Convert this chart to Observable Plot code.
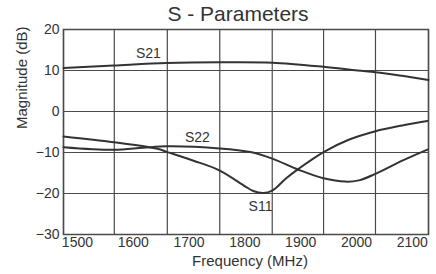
<!DOCTYPE html>
<html>
<head>
<meta charset="utf-8">
<script src="https://cdn.jsdelivr.net/npm/d3@7"></script>
<script src="https://cdn.jsdelivr.net/npm/@observablehq/plot@0.6"></script>
<style>
  html, body { margin: 0; padding: 0; background: #fff; }
  #chart svg { display: block; font-family: "Liberation Sans", Arial, sans-serif; }
</style>
</head>
<body>
<div id="chart"></div>
<script>
// Frequency (MHz) sample points and magnitudes (dB)
const s21Freq = [1475, 1565, 1660, 1755, 1849, 1941, 2002, 2034, 2082, 2129];
const s21Mag  = [10.6, 11.2, 11.8, 12.0, 11.9, 10.9, 10.0, 9.6, 8.7, 7.7];

const s11Freq = [1475, 1565, 1643, 1661, 1708, 1755, 1801, 1815, 1833, 1849, 1873, 1896, 1941, 1986, 2034, 2082, 2127];
const s11Mag  = [-6.1, -7.5, -9.1, -9.9, -12.0, -14.4, -18.3, -19.4, -19.9, -19.3, -16.4, -14.0, -9.9, -6.9, -4.8, -3.4, -2.3];

const s22Freq = [1475, 1565, 1618, 1661, 1755, 1810, 1849, 1896, 1941, 1980, 2004, 2034, 2082, 2127];
const s22Mag  = [-8.7, -9.35, -8.85, -8.5, -9.0, -9.9, -11.5, -14.2, -16.3, -17.1, -16.8, -15.2, -12.0, -9.3];

// Axis ticks
const xTickLabels = [1500, 1600, 1700, 1800, 1900, 2000, 2100];
const yTicks = [20, 10, 0, -10, -20, -30];
// Vertical grid positions (MHz) as drawn in the reference
const xGrid = [1475, 1566, 1661, 1755, 1849, 1941, 2034, 2129];
const yGrid = [10, 0, -10, -20];

// Curve annotations
const annNames = ["S21", "S22", "S11"];
const annFreq  = [1627, 1715, 1828];
const annMag   = [14.1, -6.3, -23.2];

const toRows = (name, fs, ms) => fs.map((f, i) => ({series: name, f, v: ms[i]}));
const s21 = toRows("S21", s21Freq, s21Mag);
const s11 = toRows("S11", s11Freq, s11Mag);
const s22 = toRows("S22", s22Freq, s22Mag);
const ann = annNames.map((n, i) => ({n, f: annFreq[i], v: annMag[i]}));

const ink = "#333";
const grid = "#4a4a4a";

const chart = Plot.plot({
  width: 436,
  height: 274,
  marginLeft: 63,
  marginRight: 8,
  marginTop: 29,
  marginBottom: 40,
  style: {fontFamily: "'Liberation Sans', Arial, sans-serif", color: ink, background: "#fff"},
  x: {domain: [1475, 2129]},
  y: {domain: [-30, 20]},
  marks: [
    Plot.gridX(xGrid, {stroke: grid, strokeOpacity: 1, strokeWidth: 1.2}),
    Plot.gridY(yGrid, {stroke: grid, strokeOpacity: 1, strokeWidth: 1.2}),
    Plot.frame({stroke: grid, strokeWidth: 1.5}),
    Plot.axisX(xTickLabels, {tickSize: 0, tickPadding: 3, fontSize: 14, fill: ink, label: null, tickFormat: d => String(d)}),
    Plot.axisY(yTicks, {tickSize: 0, tickPadding: 4, fontSize: 14, fill: ink, label: null}),
    Plot.line(s21, {x: "f", y: "v", stroke: ink, strokeWidth: 2, curve: "catmull-rom"}),
    Plot.line(s11, {x: "f", y: "v", stroke: ink, strokeWidth: 2, curve: "catmull-rom"}),
    Plot.line(s22, {x: "f", y: "v", stroke: ink, strokeWidth: 2, curve: "catmull-rom"}),
    Plot.text(ann, {x: "f", y: "v", text: "n", fontSize: 14, fill: ink}),
    Plot.text(["S - Parameters"], {frameAnchor: "top", dy: -15, dx: -8, fontSize: 21, fill: ink, lineAnchor: "middle"}),
    Plot.text(["Frequency (MHz)"], {frameAnchor: "bottom", dy: 27, dx: 4, fontSize: 15, fill: ink, lineAnchor: "middle"}),
    Plot.text(["Magnitude (dB)"], {frameAnchor: "left", dx: -41, dy: -3, rotate: -90, fontSize: 15, fill: ink, lineAnchor: "middle"})
  ]
});
document.getElementById("chart").appendChild(chart);
</script>
</body>
</html>
